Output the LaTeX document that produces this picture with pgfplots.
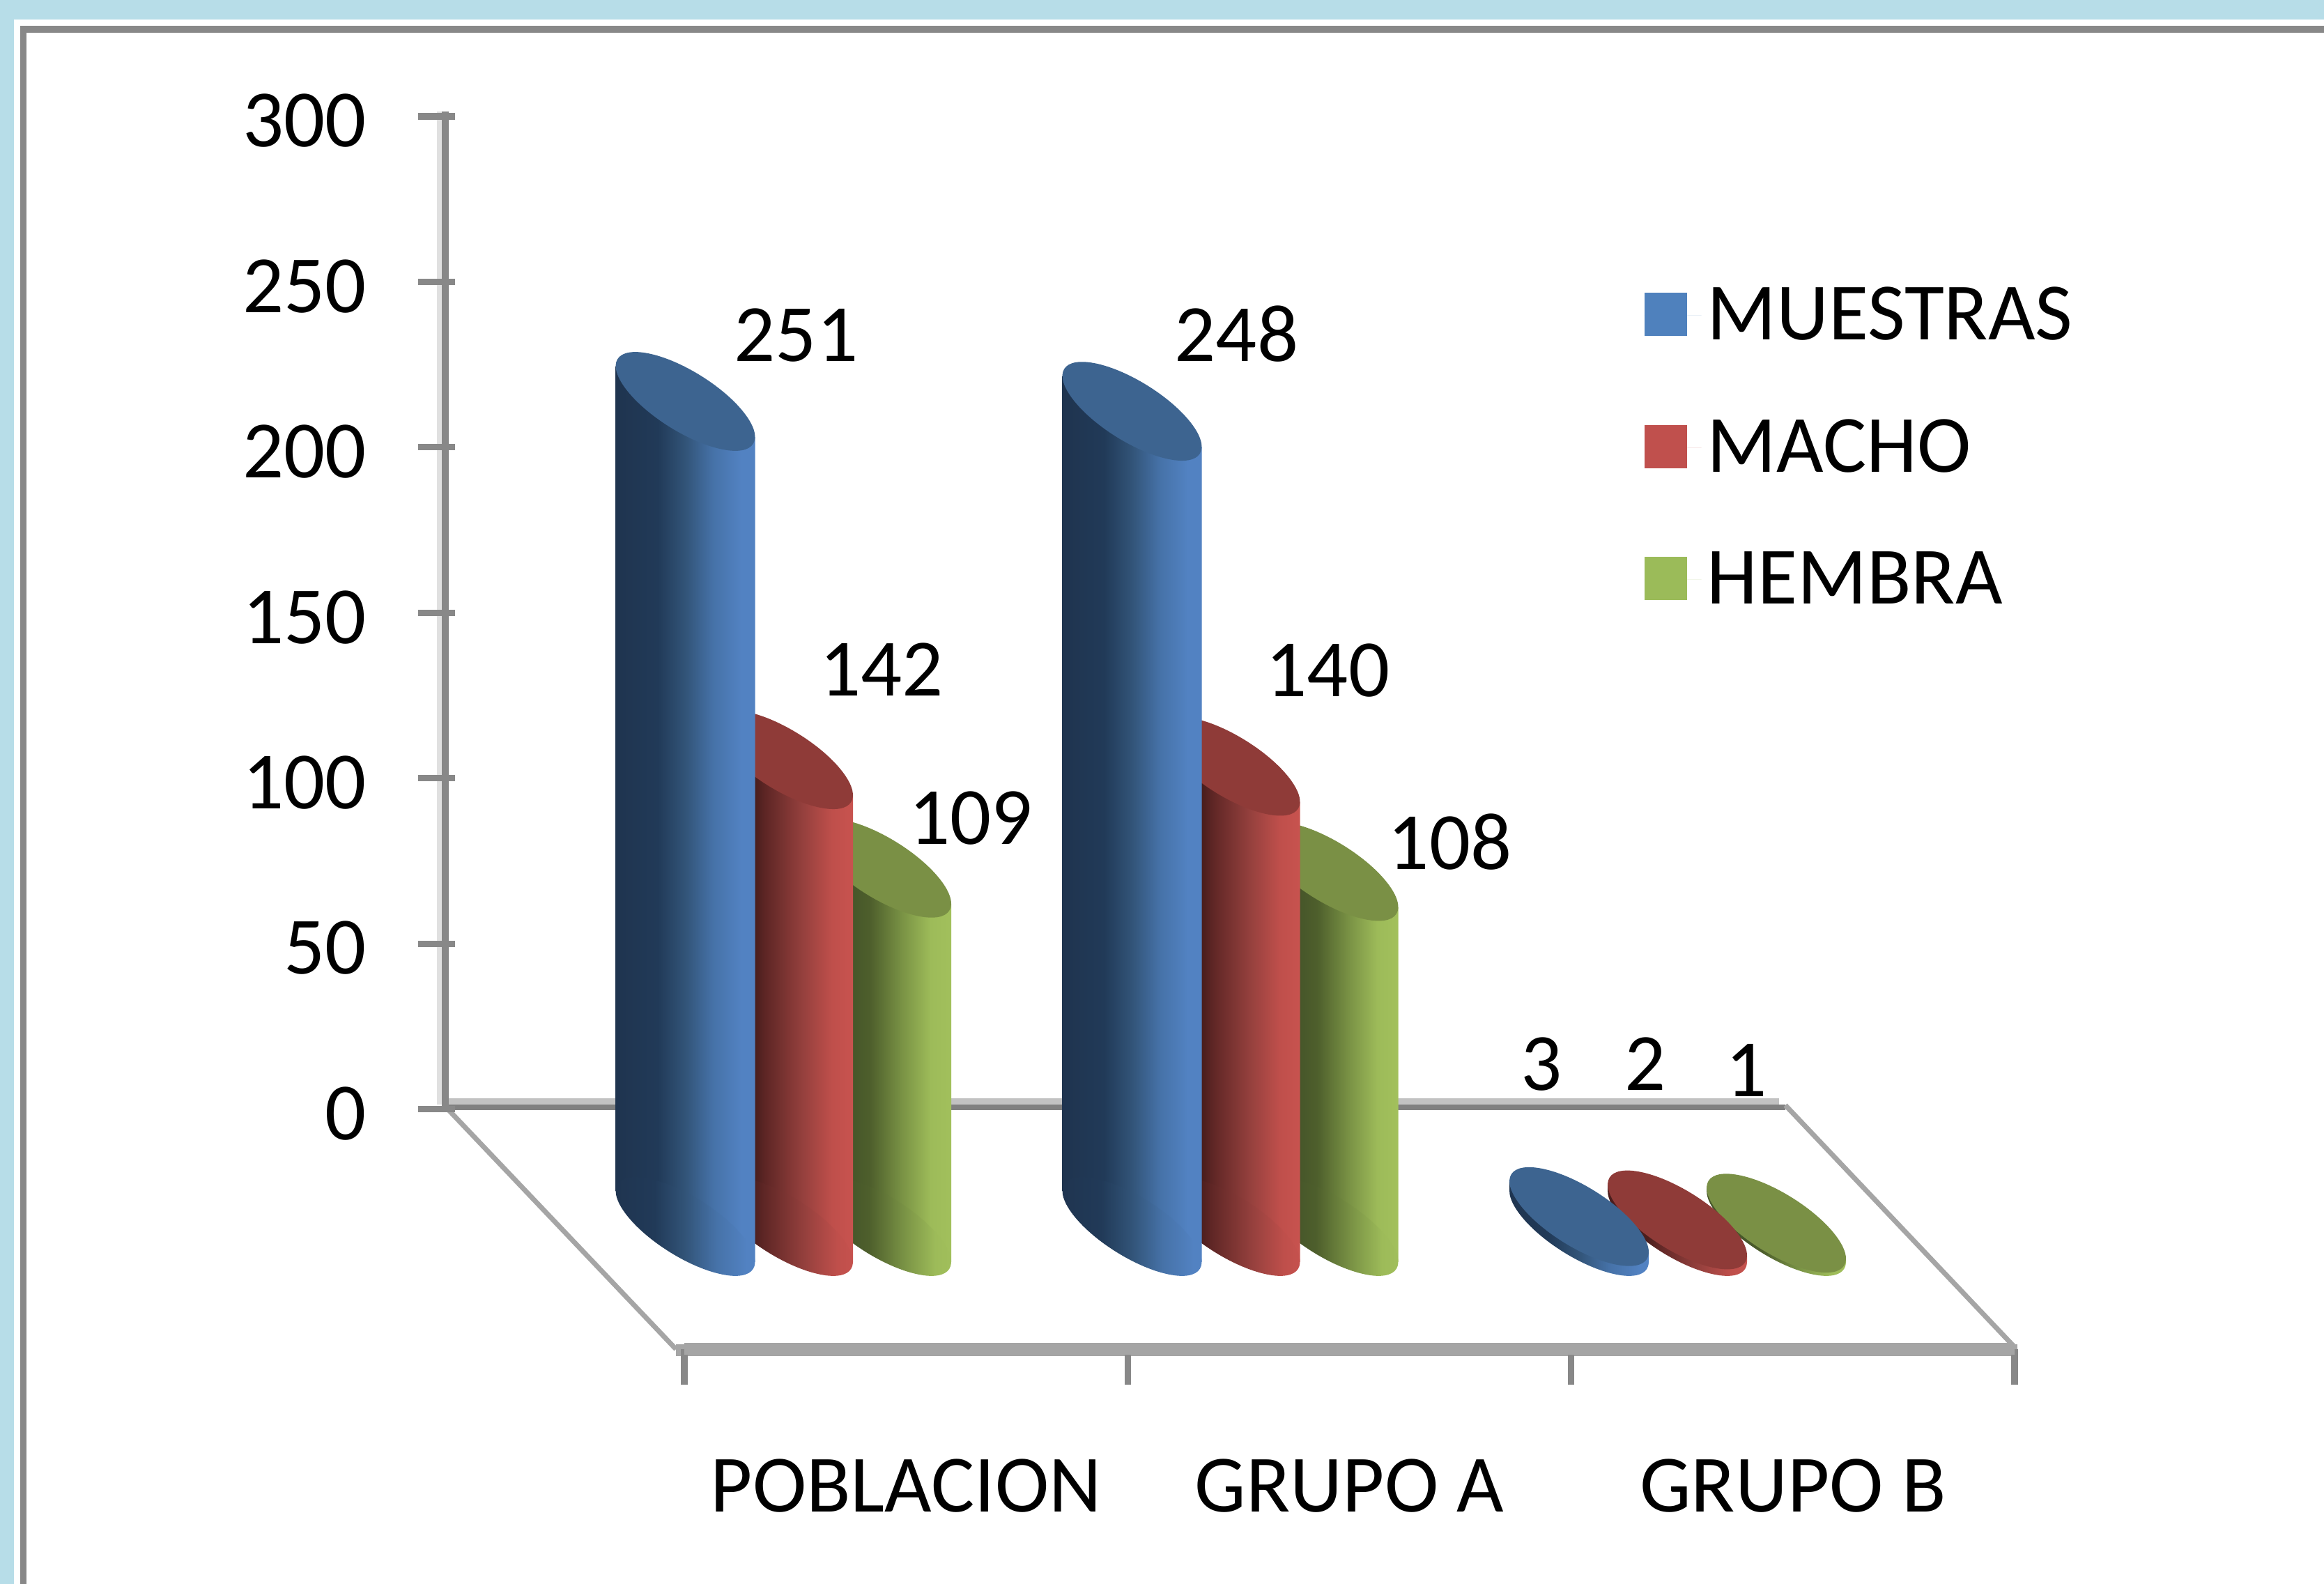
\documentclass[border=0pt]{standalone}
\usepackage{fontspec}
\setmainfont{Carlito}
\usepackage{pgfplots}
\pgfplotsset{compat=1.18}
\newcommand\lab{\fontsize{28}{30}\selectfont}
\definecolor{bgblue}{HTML}{B7DDE8}
\definecolor{framegray}{HTML}{888888}
\definecolor{floorgray}{HTML}{A5A5A5}
\definecolor{topblue}{HTML}{3D6490}
\definecolor{topred}{HTML}{8F3B38}
\definecolor{topgreen}{HTML}{7A9045}
\definecolor{legblue}{HTML}{4F81BD}
\definecolor{legred}{HTML}{C0504D}
\definecolor{leggreen}{HTML}{9BBB59}
\definecolor{HTMLa}{HTML}{1F344F}\definecolor{HTMLb}{HTML}{213A58}\definecolor{HTMLc}{HTML}{325478}\definecolor{HTMLd}{HTML}{4672A8}\definecolor{HTMLe}{HTML}{5282C2}
\definecolor{HTMLf}{HTML}{4A1E1D}\definecolor{HTMLg}{HTML}{5E2625}\definecolor{HTMLh}{HTML}{97413E}\definecolor{HTMLi}{HTML}{BF4F4B}\definecolor{HTMLj}{HTML}{C8534F}
\definecolor{HTMLk}{HTML}{47572A}\definecolor{HTMLl}{HTML}{4E5F2C}\definecolor{HTMLm}{HTML}{7A9345}\definecolor{HTMLn}{HTML}{9DBB59}\definecolor{HTMLo}{HTML}{A2C05C}
\pgfdeclarehorizontalshading{cylblue}{100bp}{color(0bp)=(HTMLa);color(25bp)=(HTMLa);color(40bp)=(HTMLb);color(50bp)=(HTMLc);color(60bp)=(HTMLd);color(70bp)=(HTMLe);color(100bp)=(HTMLe)}
\pgfdeclarehorizontalshading{cylred}{100bp}{color(0bp)=(HTMLf);color(40bp)=(HTMLf);color(43.5bp)=(HTMLg);color(57.5bp)=(HTMLh);color(67.5bp)=(HTMLi);color(75bp)=(HTMLj);color(100bp)=(HTMLj)}
\pgfdeclarehorizontalshading{cylgreen}{100bp}{color(0bp)=(HTMLk);color(40bp)=(HTMLk);color(46bp)=(HTMLl);color(57.5bp)=(HTMLm);color(67.5bp)=(HTMLn);color(75bp)=(HTMLo);color(100bp)=(HTMLo)}
\newcommand\ellpath{\pgfpathellipse{\pgfpointorigin}{\pgfpoint{23.35pt}{-14.59pt}}{\pgfpoint{5.47pt}{8.75pt}}}
\pgfdeclareplotmark{elltop}{\ellpath\pgfusepathqfill}
\pgfdeclareplotmark{ellcylblue}{\ellpath\pgfshadepath{cylblue}{0}\pgfusepath{discard}}
\pgfdeclareplotmark{ellcylred}{\ellpath\pgfshadepath{cylred}{0}\pgfusepath{discard}}
\pgfdeclareplotmark{ellcylgreen}{\ellpath\pgfshadepath{cylgreen}{0}\pgfusepath{discard}}
% x position (px), value, colour name, label offset right (px), label offset up (px)
\newcommand\cyl[5]{%
  \pgfmathsetmacro\xl{#1-100}\pgfmathsetmacro\xr{#1+100}%
  \pgfmathsetmacro\yl{#2+10.8}\pgfmathsetmacro\yr{#2-10.8}%
  \addplot[forget plot,draw=none,shade,shading=cyl#3] coordinates {(\xl,\yl) (\xr,\yr) (\xr,-10.8) (\xl,10.8)};
  \addplot[forget plot,only marks,mark=ellcyl#3] coordinates {(#1,0)};
  \addplot[forget plot,only marks,mark=elltop,color=top#3,
    nodes near coords,
    every node near coord/.style={anchor=center,inner sep=0pt,font=\lab,text=black,xshift=#4*0.24pt,yshift=#5*0.24pt}]
    coordinates {(#1,#2)};
}
\pgfplotsset{cylaxis/.style={at={(0,0)},anchor=south west,scale only axis,
  width=800.4pt,height=545.52pt,
  xmin=0,xmax=3335,ymin=-108.76,ymax=373.12,hide axis,clip=false,
  /pgf/number format/assume math mode=true}}
\begin{document}
\begin{tikzpicture}
\useasboundingbox (0,0) rectangle (800.4pt,545.52pt);
\begin{scope}[x=0.24pt,y=-0.24pt,shift={(0,545.52pt)}]
  \fill[bgblue] (0,0) rectangle (3335,2273);
  \fill[white] (20,28) rectangle (3335,2273);
  \fill[framegray] (29,37) rectangle (3335,47);
  \fill[framegray] (29,37) rectangle (38,2273);
  % wall and floor outline
  \fill[black!12] (627,160) rectangle (635,1585);
  \fill[black!24] (644,1576) rectangle (2553,1585);
  \fill[black!50] (635,1585) rectangle (2562,1593);
  \draw[floorgray,line width=1.7pt] (644,1593) -- (970,1936);
  \draw[floorgray,line width=1.7pt] (2562,1586) -- (2888,1930);
  \fill[floorgray] (970,1929) rectangle (2895,1946);
\end{scope}
% value axis on the back wall
\begin{axis}[at={(153.36pt,163.54pt)},anchor=south west,scale only axis,
  width=10pt,height=343.58pt,xmin=0,xmax=1,ymin=0,ymax=301.5,
  axis x line=none,axis y line=left,axis line style={-,framegray,line width=2.2pt},
  ytick={0,50,100,150,200,250,300},
  tick align=center,major tick length=12.7pt,
  ytick style={framegray,line width=2.2pt,xshift=-3pt},
  /pgf/number format/assume math mode=true,
  yticklabel style={font=\lab,text=black,inner sep=0pt,anchor=east,xshift=-20.6pt,yshift=-1.5pt}]
\end{axis}
% category axis on the floor edge
\begin{axis}[at={(235.68pt,80.88pt)},anchor=south west,scale only axis,
  width=458.16pt,height=10pt,xmin=0,xmax=3,ymin=0,ymax=1,
  axis y line=none,axis x line=bottom,axis line style={-,floorgray,line width=4.08pt},
  xtick={0.5,1.5,2.5},xticklabels={POBLACION,GRUPO A,GRUPO B},
  minor xtick={0,1,2,3},tick align=outside,
  major tick length=0pt,minor tick length=12.2pt,
  minor x tick style={framegray,line width=2.2pt},
  xticklabel style={font=\lab,text=black,inner sep=0pt,anchor=center,yshift=-47pt}]
\end{axis}
% HEMBRA
\begin{axis}[cylaxis]
\cyl{1265}{109}{green}{128}{72}
\cyl{1906.5}{108}{green}{174}{42}
\cyl{2549}{1}{green}{-43}{219}
\end{axis}
% MACHO
\begin{axis}[cylaxis]
\cyl{1124}{142}{red}{141}{129}
\cyl{1765.5}{140}{red}{140}{138}
\cyl{2407}{2}{red}{-46}{224}
\end{axis}
% MUESTRAS
\begin{axis}[cylaxis,
  legend style={at={(axis cs:2359,287.8)},anchor=north west,draw=none,fill=none,inner sep=0pt,
    font=\lab,row sep=21.9pt},
  legend cell align=left,
  legend image code/.code={\fill[#1] (0pt,-7pt) rectangle (14.6pt,7.8pt);\path (0pt,0pt) -- (19.6pt,0pt);}]
\addlegendimage{fill=legblue,draw=none}\addlegendentry{MUESTRAS}
\addlegendimage{fill=legred,draw=none}\addlegendentry{MACHO}
\addlegendimage{fill=leggreen,draw=none}\addlegendentry{HEMBRA}
\cyl{983.5}{251}{blue}{159}{95}
\cyl{1624.5}{248}{blue}{150}{111}
\cyl{2266}{3}{blue}{-54}{219}
\end{axis}
\end{tikzpicture}
\end{document}
